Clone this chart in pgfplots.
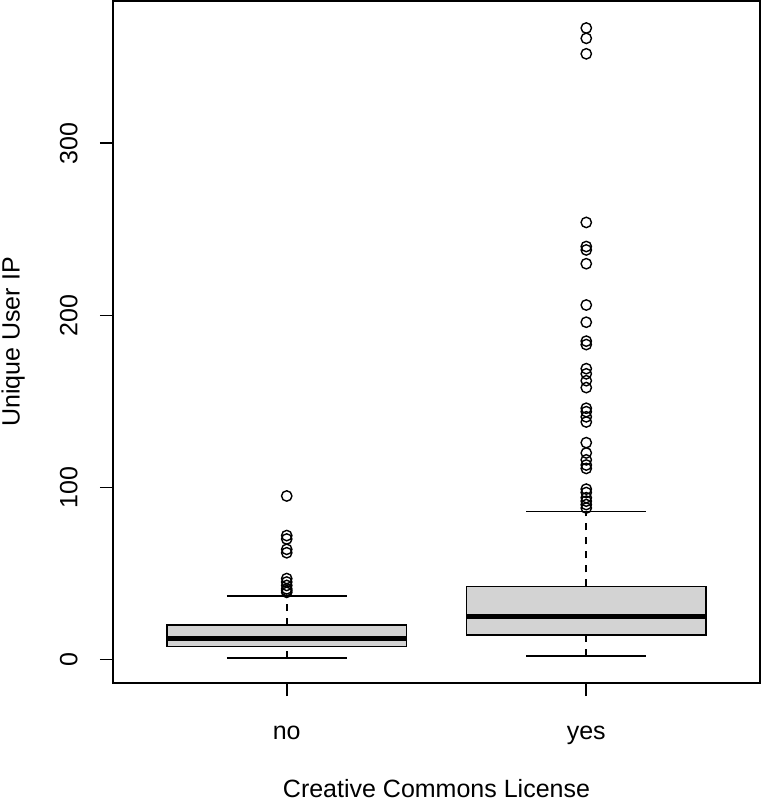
\documentclass[border=0pt]{standalone}
\usepackage{fontspec}
\setmainfont{Liberation Sans}
\usepackage{pgfplots}
\pgfplotsset{compat=1.18}
\definecolor{boxgray}{HTML}{D3D3D3}

\begin{document}
\begin{tikzpicture}
% page size fixed to the reference proportions (381 x 400 bp)
\useasboundingbox (-56.5bp,-58.5bp) rectangle (324.5bp,341.5bp);
\begin{axis}[
  at={(0,0)}, anchor=south west,
  scale only axis,
  width=323.5bp, height=341bp,
  xmin=0.42, xmax=2.58,
  ymin=-13.7, ymax=382.7,
  axis line style={line width=0.8bp},
  xtick={1,2}, xticklabels={no,yes},
  ytick={0,100,200,300},
  tick align=outside,
  major tick length=6.5bp,
  tick style={line width=0.8bp, black},
  xtick pos=bottom, ytick pos=left,
  /pgf/number format/assume math mode=true,
  tick label style={font=\fontsize{12.5bp}{15bp}\selectfont},
  xticklabel style={inner ysep=15bp},
  yticklabel style={rotate=90, inner ysep=11bp},
  xlabel={Creative Commons License},
  ylabel={Unique User IP},
  label style={font=\fontsize{12.5bp}{15bp}\selectfont},
  xlabel style={at={(axis description cs:0.5,-0.1672)}, anchor=base, inner sep=0pt},
  ylabel style={at={(axis description cs:-0.1442,0.5)}, anchor=base, inner sep=0pt},
  whisk/.style={black, line width=0.8bp, dash pattern=on 3.5bp off 3.5bp},
  cap/.style={black, line width=0.8bp},
  outl/.style={only marks, mark=o, mark size=2.6bp, mark options={black, line width=0.7bp}},
]
% ---- no ----
\addplot[whisk] coordinates {(1,1) (1,7.5)};
\addplot[whisk] coordinates {(1,20) (1,37)};
\addplot[cap] coordinates {(0.8,1) (1.2,1)};
\addplot[cap] coordinates {(0.8,37) (1.2,37)};
\addplot[fill=boxgray, draw=black, line width=0.8bp]
  coordinates {(0.6,7.5) (1.4,7.5) (1.4,20) (0.6,20) (0.6,7.5)};
\addplot[black, line width=2.5bp] coordinates {(0.6,12) (1.4,12)};
\addplot[outl] coordinates {(1,95) (1,72) (1,70) (1,64) (1,62) (1,47) (1,45)
  (1,43) (1,41) (1,40) (1,39)};
% ---- yes ----
\addplot[whisk] coordinates {(2,2) (2,14.3)};
\addplot[whisk] coordinates {(2,42.5) (2,86)};
\addplot[cap] coordinates {(1.8,2) (2.2,2)};
\addplot[cap] coordinates {(1.8,86) (2.2,86)};
\addplot[fill=boxgray, draw=black, line width=0.8bp]
  coordinates {(1.6,14.3) (2.4,14.3) (2.4,42.5) (1.6,42.5) (1.6,14.3)};
\addplot[black, line width=2.5bp] coordinates {(1.6,25) (2.4,25)};
\addplot[outl] coordinates {(2,367) (2,361) (2,352) (2,254) (2,240) (2,238)
  (2,230) (2,206) (2,196) (2,185) (2,183) (2,169) (2,166) (2,162) (2,158)
  (2,146) (2,144) (2,141) (2,138) (2,126) (2,120) (2,116) (2,113) (2,111)
  (2,99) (2,97) (2,94) (2,92) (2,90) (2,88)};
\end{axis}
\end{tikzpicture}
\end{document}
